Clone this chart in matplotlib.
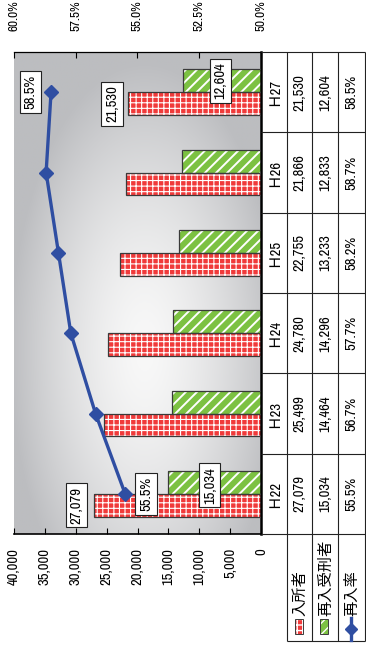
import numpy as np
import matplotlib
matplotlib.use('Agg')
import matplotlib.pyplot as plt
from matplotlib import font_manager
from matplotlib.colors import LinearSegmentedColormap
from matplotlib.patches import Rectangle

categories = ['Ｈ22', 'Ｈ23', 'Ｈ24', 'Ｈ25', 'Ｈ26', 'Ｈ27']
admitted = [27079, 25499, 24780, 22755, 21866, 21530]
readmitted = [15034, 14464, 14296, 13233, 12833, 12604]
readmit_rate = [55.5, 56.7, 57.7, 58.2, 58.7, 58.5]
series_names = ['入所者', '再入受刑者', '再入率']
value_ticks = [0, 5000, 10000, 15000, 20000, 25000, 30000, 35000, 40000]
rate_ticks = [50.0, 52.5, 55.0, 57.5, 60.0]

installed = {f.name for f in font_manager.fontManager.ttflist}
narrow_choices = ['Liberation Sans Narrow', 'Arial Narrow', 'Archivo Narrow', 'PT Sans Narrow',
                  'Roboto Condensed', 'Fira Sans Condensed', 'IBM Plex Sans Condensed']
latin = next((f for f in narrow_choices if f in installed), 'Liberation Sans')
FS = 10.5 if latin != 'Liberation Sans' else 9.5
plt.rcParams['font.family'] = [latin, 'Noto Sans CJK JP']
plt.rcParams['font.size'] = FS

RED = '#f03a3a'
GREEN = '#7cc142'
BLUE = '#2f4ea2'
INK = '#222222'

# page is laid out sideways, in pixels
W, H = 366, 649
PL, PR, PT, PB = 14, 261, 52, 534
TB = 641

fig = plt.figure(figsize=(W / 100, H / 100), dpi=100)
ax = fig.add_axes([PL / W, 1 - PB / H, (PR - PL) / W, (PB - PT) / H])

# soft grey-to-white backdrop
gx, gy = np.meshgrid(np.linspace(0, 1, 300), np.linspace(0, 1, 300))
r = np.sqrt(((gx - 0.53) / 0.55) ** 2 + ((gy - 0.62) / 0.6) ** 2)
shade = np.clip(r, 0, 1) ** 1.5
bg = LinearSegmentedColormap.from_list('bg', ['#f8f8f8', '#bcbdc0'])
ax.imshow(shade, cmap=bg, extent=(40000, 0, -0.5, 5.5), aspect='auto',
          vmin=0, vmax=1, interpolation='bilinear', zorder=0)

n = len(categories)
y = np.arange(n)
h = 0.285


def hatched_barh(ypos, widths, face, hatch, hlw):
    with plt.rc_context({'hatch.linewidth': hlw}):
        bars = ax.barh(ypos, widths, height=h, color=face, edgecolor='white',
                       hatch=hatch, linewidth=0, zorder=2)
    for b in bars:
        if hasattr(b, 'set_hatch_linewidth'):
            b.set_hatch_linewidth(hlw)
    ax.barh(ypos, widths, height=h, fill=False, edgecolor='#3a3a3a',
            linewidth=0.9, zorder=3)
    return bars


hatched_barh(y - h / 2, admitted, RED, '+++', 0.8)
hatched_barh(y + h / 2, readmitted, GREEN, '///', 1.4)

ax.set_xlim(40000, 0)
ax.set_ylim(-0.5, 5.5)

ax2 = ax.twiny()
ax2.set_xlim(60, 50)
ax2.plot(readmit_rate, y, color=BLUE, lw=2.4, marker='D', ms=7.5, zorder=4)

box = dict(boxstyle='square,pad=0.25', fc='white', ec=INK, lw=0.8)
ax.annotate(f'{admitted[0]:,}', (admitted[0], y[0] - h / 2), xytext=(-12.5, 0),
            textcoords='offset points', rotation=90, ha='center', va='center', bbox=box, zorder=5)
ax.annotate(f'{admitted[-1]:,}', (admitted[-1], y[-1] - h / 2), xytext=(-11.5, 0),
            textcoords='offset points', rotation=90, ha='center', va='center', bbox=box, zorder=5)
ax.annotate(f'{readmitted[0]:,}', (readmitted[0], y[0] + h / 2), xytext=(30, -2),
            textcoords='offset points', rotation=90, ha='center', va='center', bbox=box, zorder=5)
ax.annotate(f'{readmitted[-1]:,}', (readmitted[-1], y[-1] + h / 2), xytext=(27, 0),
            textcoords='offset points', rotation=90, ha='center', va='center', bbox=box, zorder=5)
ax2.annotate(f'{readmit_rate[0]:.1f}%', (readmit_rate[0], y[0]), xytext=(15, 0),
             textcoords='offset points', rotation=90, ha='center', va='center', bbox=box, zorder=5)
ax2.annotate(f'{readmit_rate[-1]:.1f}%', (readmit_rate[-1], y[-1]), xytext=(-15, 0),
             textcoords='offset points', rotation=90, ha='center', va='center', bbox=box, zorder=5)

ax.set_xticks(value_ticks)
ax.set_xticklabels([f'{v:,}' for v in value_ticks], rotation=90)
ax.tick_params(axis='x', direction='in', length=4, width=0.8, pad=10)
ax.set_yticks([])
ax2.set_xticks(rate_ticks)
ax2.set_xticklabels([f'{v:.1f}%' for v in rate_ticks], rotation=90, fontsize=FS - 1)
ax2.tick_params(axis='x', direction='in', length=4, width=0.8, pad=15)

for a in (ax, ax2):
    a.spines['left'].set_visible(False)
ax.spines['top'].set_visible(False)
ax2.spines['bottom'].set_visible(False)
ax2.spines['right'].set_visible(False)
ax2.spines['top'].set_linewidth(0.9)
ax.spines['bottom'].set_linewidth(1.2)
ax.spines['right'].set_linewidth(1.8)

# data table beside the plot
tx = fig.add_axes([PR / W, 1 - 643 / H, (W - PR) / W, (643 - PT) / H])
tx.set_xlim(PR, W)
tx.set_ylim(643, PT)
tx.axis('off')
cols = [PR, 287, 312, 338, 365]
row_h = (PB - PT) / n
line_kw = dict(color=INK, lw=0.8, clip_on=False, solid_capstyle='butt')
for k in range(n + 1):
    yy = PT + k * row_h
    tx.plot([cols[0], cols[-1]], [yy, yy], **line_kw)
for xx in cols[1:]:
    tx.plot([xx, xx], [PT, TB], **line_kw)
tx.plot([cols[1], cols[-1]], [TB, TB], **line_kw)

centers = [(cols[j] + cols[j + 1]) / 2 for j in range(4)]
for i in range(n):
    yc = PB - (i + 0.5) * row_h
    cells = [categories[i], f'{admitted[i]:,}', f'{readmitted[i]:,}', f'{readmit_rate[i]:.1f}%']
    for xc, s in zip(centers, cells):
        tx.text(xc, yc, s, rotation=90, ha='center', va='center')

# row headers with legend keys
for j, name in enumerate(series_names):
    xc = centers[j + 1]
    if j == 0:
        tx.add_patch(Rectangle((xc - 5, 619), 8, 15, fc=RED, ec='white', hatch='+++', lw=0))
        tx.add_patch(Rectangle((xc - 5, 619), 8, 15, fill=False, ec='#3a3a3a', lw=0.7))
    elif j == 1:
        tx.add_patch(Rectangle((xc - 5, 619), 8, 15, fc=GREEN, ec='white', hatch='///', lw=0))
        tx.add_patch(Rectangle((xc - 5, 619), 8, 15, fill=False, ec='#3a3a3a', lw=0.7))
    else:
        tx.plot([xc - 1, xc - 1], [618, 640], color=BLUE, lw=2.4, clip_on=False)
        tx.plot([xc - 1], [629], color=BLUE, marker='D', ms=6, clip_on=False)
    tx.text(xc + 1, 616, name, rotation=90, ha='center', va='bottom', fontsize=11)

fig.savefig('out.png', dpi=100)
